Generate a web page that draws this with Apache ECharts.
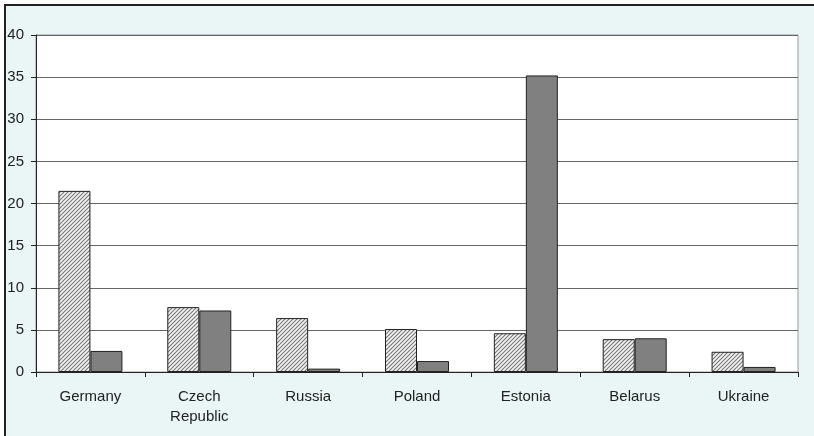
<!DOCTYPE html>
<html><head><meta charset="utf-8">
<script src="https://cdn.jsdelivr.net/npm/echarts@6/dist/echarts.min.js"></script>
<style>
html,body{margin:0;padding:0;background:#fff;}
#frame{position:absolute;left:4px;top:4px;width:820px;height:440px;background:#EAF6F6;border-left:2px solid #222;border-top:2px solid #222;}
#main{position:absolute;left:0;top:0;width:814px;height:436px;}
</style></head>
<body>
<div id="frame"></div>
<div id="main"></div>
<script>
const categories = ['Germany', 'Czech\nRepublic', 'Russia', 'Poland', 'Estonia', 'Belarus', 'Ukraine'];
const seriesA = [21.5, 7.7, 6.4, 5.1, 4.6, 3.9, 2.4];
const seriesB = [2.5, 7.3, 0.4, 1.3, 35.2, 4.0, 0.6];
const yTicks = [0, 5, 10, 15, 20, 25, 30, 35, 40];

function hatch() {
  const c = document.createElement('canvas');
  c.width = 4; c.height = 4;
  const g = c.getContext('2d');
  g.fillStyle = '#f4f4f4'; g.fillRect(0, 0, 4, 4);
  g.strokeStyle = '#777'; g.lineWidth = 1.1;
  g.beginPath();
  g.moveTo(-1, 5); g.lineTo(5, -1);
  g.moveTo(-1, 1); g.lineTo(1, -1);
  g.moveTo(3, 5); g.lineTo(5, 3);
  g.stroke();
  return c;
}

const chart = echarts.init(document.getElementById('main'), null, {renderer: 'canvas'});
chart.setOption({
  backgroundColor: 'transparent',
  animation: false,
  grid: {left: 36, right: 16, top: 35, bottom: 64, show: true, backgroundColor: '#fff', borderColor: '#999', borderWidth: 1},
  xAxis: {
    type: 'category', data: categories,
    axisLine: {lineStyle: {color: '#222', width: 1}},
    axisTick: {show: true, length: 5, lineStyle: {color: '#222'}, alignWithLabel: false},
    axisLabel: {color: '#222', fontFamily: 'Liberation Sans, Arial', fontSize: 15, margin: 15, lineHeight: 20, interval: 0}
  },
  yAxis: {
    type: 'value', min: 0, max: 40, interval: 5,
    axisLine: {show: true, lineStyle: {color: '#222', width: 1}},
    axisTick: {show: true, length: 5, lineStyle: {color: '#222'}},
    axisLabel: {color: '#222', fontFamily: 'Liberation Sans, Arial', fontSize: 15, margin: 12,
      formatter: v => yTicks.includes(v) ? String(v) : ''},
    splitLine: {lineStyle: {color: '#666', width: 1}}
  },
  series: [
    {type: 'bar', data: seriesA, barWidth: 32, barGap: '0%',
     itemStyle: {color: {image: hatch(), repeat: 'repeat'}, borderColor: '#222', borderWidth: 1}},
    {type: 'bar', data: seriesB, barWidth: 32, barGap: '0%',
     itemStyle: {color: '#808080', borderColor: '#222', borderWidth: 1}}
  ]
});
</script>
</body></html>
